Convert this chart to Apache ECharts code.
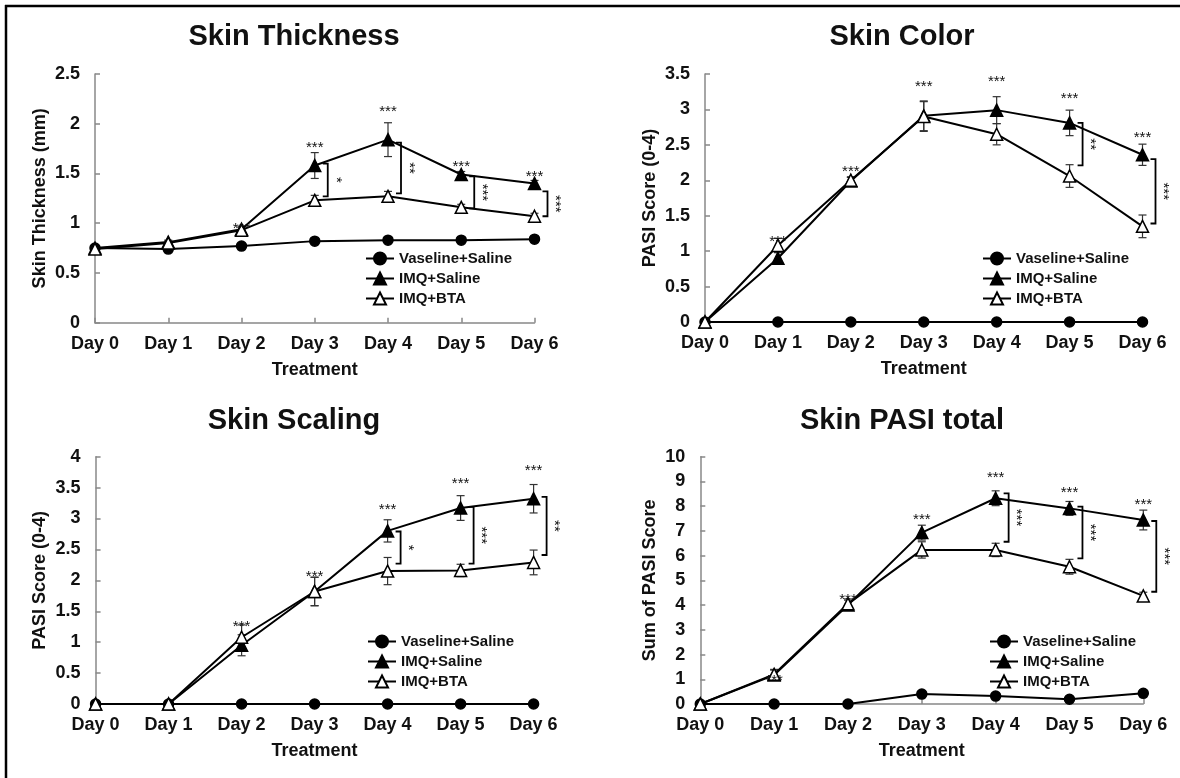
<!DOCTYPE html>
<html>
<head>
<meta charset="utf-8">
<title>Skin scores</title>
<script src="https://cdn.jsdelivr.net/npm/echarts@6/dist/echarts.min.js"></script>
<style>
  html, body { margin: 0; padding: 0; background: #fff; overflow: hidden; }
  #main { width: 1180px; height: 778px; }
</style>
</head>
<body>
<div id="main"></div>
<script>
const days = ['Day 0', 'Day 1', 'Day 2', 'Day 3', 'Day 4', 'Day 5', 'Day 6']
const groups = ['Vaseline+Saline', 'IMQ+Saline', 'IMQ+BTA']

// Skin Thickness (mm)
const thickVas = [0.75, 0.74, 0.77, 0.82, 0.83, 0.83, 0.84]
const thickImq = [0.75, 0.81, 0.94, 1.58, 1.84, 1.49, 1.40]
const thickBta = [0.74, 0.80, 0.93, 1.23, 1.27, 1.16, 1.07]
const thickImqErr = [0, 0.02, 0.03, 0.13, 0.17, 0.03, 0.03]
const thickBtaErr = [0, 0.02, 0.03, 0.05, 0.05, 0.03, 0.03]
const thickStars = [[2, 0.98, '***'], [3, 1.80, '***'], [4, 2.16, '***'], [5, 1.61, '***'], [6, 1.51, '***']]
const thickBrackets = [[3, 1.60, 1.27, '*'], [4, 1.81, 1.30, '**'], [5, 1.47, 1.15, '***'], [6, 1.32, 1.07, '***']]

// Skin Color
const colorVas = [0, 0, 0, 0, 0, 0, 0]
const colorImq = [0, 0.90, 1.99, 2.91, 2.99, 2.81, 2.36]
const colorBta = [0, 1.08, 2.00, 2.90, 2.65, 2.06, 1.35]
const colorImqErr = [0, 0.08, 0.05, 0.21, 0.19, 0.18, 0.15]
const colorBtaErr = [0, 0.10, 0.05, 0.21, 0.15, 0.16, 0.16]
const colorStars = [[1, 1.19, '***'], [2, 2.17, '***'], [3, 3.37, '***'], [4, 3.44, '***'], [5, 3.20, '***'], [6, 2.65, '***']]
const colorBrackets = [[5, 2.81, 2.21, '**'], [6, 2.30, 1.39, '***']]

// Skin Scaling
const scaleVas = [0, 0, 0, 0, 0, 0, 0]
const scaleImq = [0, 0, 0.95, 1.82, 2.80, 3.17, 3.32]
const scaleBta = [0, 0, 1.08, 1.82, 2.15, 2.16, 2.29]
const scaleImqErr = [0, 0, 0.17, 0.23, 0.18, 0.20, 0.23]
const scaleBtaErr = [0, 0, 0.20, 0.23, 0.22, 0.10, 0.20]
const scaleStars = [[2, 1.31, '***'], [3, 2.12, '***'], [4, 3.20, '***'], [5, 3.62, '***'], [6, 3.83, '***']]
const scaleBrackets = [[4, 2.79, 2.27, '*'], [5, 3.19, 2.27, '***'], [6, 3.35, 2.41, '**']]

// Skin PASI total
const totalVas = [0, 0, 0, 0.40, 0.32, 0.19, 0.43]
const totalImq = [0, 1.17, 4.00, 6.93, 8.32, 7.91, 7.44]
const totalBta = [0, 1.20, 4.05, 6.23, 6.23, 5.55, 4.37]
const totalImqErr = [0, 0.20, 0.20, 0.30, 0.30, 0.28, 0.40]
const totalBtaErr = [0, 0.20, 0.20, 0.33, 0.27, 0.30, 0.15]
const totalStars = [[1, 1.08, '***'], [2, 4.37, '***'], [3, 7.60, '***'], [4, 9.30, '***'], [5, 8.68, '***'], [6, 8.22, '***']]
const totalBrackets = [[4, 8.52, 6.56, '***'], [5, 7.98, 5.89, '***'], [6, 7.40, 4.54, '***']]

const font = '"Liberation Sans", Arial, sans-serif'
const ink = '#111'

const panels = [
  { title: 'Skin Thickness', yName: 'Skin Thickness (mm)', max: 2.5, interval: 0.5,
    vas: thickVas, imq: thickImq, bta: thickBta, imqErr: thickImqErr, btaErr: thickBtaErr,
    stars: thickStars, brackets: thickBrackets,
    grid: { left: 95, top: 74, width: 439.5, height: 248.7 }, titleX: 294, titleY: 22, nameGap: 46, legend: [365, 251] },
  { title: 'Skin Color', yName: 'PASI Score (0-4)', max: 3.5, interval: 0.5,
    vas: colorVas, imq: colorImq, bta: colorBta, imqErr: colorImqErr, btaErr: colorBtaErr,
    stars: colorStars, brackets: colorBrackets,
    grid: { left: 705, top: 74, width: 437.5, height: 248 }, titleX: 902, titleY: 22, nameGap: 46, legend: [982, 251] },
  { title: 'Skin Scaling', yName: 'PASI Score (0-4)', max: 4, interval: 0.5,
    vas: scaleVas, imq: scaleImq, bta: scaleBta, imqErr: scaleImqErr, btaErr: scaleBtaErr,
    stars: scaleStars, brackets: scaleBrackets,
    grid: { left: 95.6, top: 456.7, width: 438, height: 247.3 }, titleX: 294, titleY: 406, nameGap: 47, legend: [367, 634] },
  { title: 'Skin PASI total', yName: 'Sum of PASI Score', max: 10, interval: 1,
    vas: totalVas, imq: totalImq, bta: totalBta, imqErr: totalImqErr, btaErr: totalBtaErr,
    stars: totalStars, brackets: totalBrackets,
    grid: { left: 700.3, top: 456.7, width: 443, height: 247.3 }, titleX: 902, titleY: 406, nameGap: 41, legend: [989, 634] }
]

const renderErr = (params, api) => {
  const e = api.value(2)
  if (!e) return
  const top = api.coord([api.value(0), api.value(1) + e])
  const bot = api.coord([api.value(0), api.value(1) - e])
  const st = { stroke: '#333', lineWidth: 1.2 }
  return {
    type: 'group',
    children: [
      { type: 'line', shape: { x1: top[0], y1: top[1], x2: bot[0], y2: bot[1] }, style: st },
      { type: 'line', shape: { x1: top[0] - 4, y1: top[1], x2: top[0] + 4, y2: top[1] }, style: st },
      { type: 'line', shape: { x1: bot[0] - 4, y1: bot[1], x2: bot[0] + 4, y2: bot[1] }, style: st }
    ]
  }
}

const lineSeries = (i, name, data, symbol, fill) => ({
  name: name,
  type: 'line',
  xAxisIndex: i,
  yAxisIndex: i,
  data: data,
  symbol: symbol,
  symbolSize: symbol === 'circle' ? 10 : 12,
  lineStyle: { color: '#000', width: 2 },
  itemStyle: { color: fill, borderColor: '#000', borderWidth: 1.5 },
  z: 3
})

const option = {
  animation: false,
  backgroundColor: '#fff',
  title: [],
  grid: [],
  xAxis: [],
  yAxis: [],
  legend: [],
  series: [],
  graphic: [
    { type: 'line', shape: { x1: 5, y1: 6, x2: 1180, y2: 6 }, style: { stroke: '#000', lineWidth: 2.5 } },
    { type: 'line', shape: { x1: 6, y1: 5, x2: 6, y2: 778 }, style: { stroke: '#000', lineWidth: 2.5 } }
  ]
}

panels.forEach((p, i) => {
  option.title.push({
    text: p.title, left: p.titleX, top: p.titleY, textAlign: 'center', padding: 0,
    textStyle: { fontSize: 29, fontWeight: 'bold', color: ink, fontFamily: font }
  })
  option.grid.push(p.grid)
  option.xAxis.push({
    type: 'category', gridIndex: i, data: days, boundaryGap: false,
    axisLine: { lineStyle: { color: '#888', width: 1.5 } },
    axisTick: { inside: true, length: 5, lineStyle: { color: '#888', width: 1.5 } },
    axisLabel: { interval: 0, margin: 12, fontSize: 18, fontWeight: 'bold', color: ink, fontFamily: font },
    name: 'Treatment', nameLocation: 'middle', nameGap: 38,
    nameTextStyle: { fontSize: 18, fontWeight: 'bold', color: ink, fontFamily: font }
  })
  option.yAxis.push({
    type: 'value', gridIndex: i, min: 0, max: p.max, interval: p.interval,
    axisLine: { show: true, lineStyle: { color: '#888', width: 1.5 } },
    axisTick: { show: true, inside: true, length: 5, lineStyle: { color: '#888', width: 1.5 } },
    splitLine: { show: false },
    axisLabel: { margin: 15, fontSize: 18, fontWeight: 'bold', color: ink, fontFamily: font },
    name: p.yName, nameLocation: 'middle', nameGap: p.nameGap,
    nameTextStyle: { fontSize: 18, fontWeight: 'bold', color: ink, fontFamily: font }
  })
  option.legend.push({
    data: groups, orient: 'vertical', left: p.legend[0], top: p.legend[1],
    itemWidth: 28, itemHeight: 15, itemGap: 5, padding: 0, selectedMode: false,
    textStyle: { fontSize: 15, fontWeight: 'bold', color: ink, fontFamily: font, lineHeight: 15 }
  })

  // error bars
  option.series.push({
    type: 'custom', xAxisIndex: i, yAxisIndex: i, silent: true, z: 2,
    data: p.imq.map((v, k) => [k, v, p.imqErr[k]]), renderItem: renderErr
  })
  option.series.push({
    type: 'custom', xAxisIndex: i, yAxisIndex: i, silent: true, z: 2,
    data: p.bta.map((v, k) => [k, v, p.btaErr[k]]), renderItem: renderErr
  })

  option.series.push(lineSeries(i, groups[0], p.vas, 'circle', '#000'))
  option.series.push(lineSeries(i, groups[1], p.imq, 'triangle', '#000'))
  option.series.push(lineSeries(i, groups[2], p.bta, 'triangle', '#fff'))

  // stars over the IMQ+Saline points
  option.series.push({
    type: 'custom', xAxisIndex: i, yAxisIndex: i, silent: true, z: 4,
    data: p.stars.map(s => [s[0], s[1]]),
    renderItem: (params, api) => {
      const pt = api.coord([api.value(0), api.value(1)])
      return {
        type: 'text', x: pt[0], y: pt[1] + 4,
        style: { text: p.stars[params.dataIndex][2], fontSize: 15, fontFamily: font, fill: ink, align: 'center', verticalAlign: 'middle' }
      }
    }
  })

  // brackets between IMQ+Saline and IMQ+BTA
  option.series.push({
    type: 'custom', xAxisIndex: i, yAxisIndex: i, silent: true, z: 4,
    data: p.brackets.map(b => [b[0], b[1], b[2]]),
    renderItem: (params, api) => {
      const hi = api.coord([api.value(0), api.value(1)])
      const lo = api.coord([api.value(0), api.value(2)])
      const x = hi[0] + 13
      return {
        type: 'group',
        children: [
          { type: 'polyline', shape: { points: [[x - 5, hi[1]], [x, hi[1]], [x, lo[1]], [x - 5, lo[1]]] },
            style: { stroke: '#000', lineWidth: 1.8, fill: null } },
          { type: 'text', x: x + 8, y: (hi[1] + lo[1]) / 2, rotation: -Math.PI / 2,
            style: { text: p.brackets[params.dataIndex][3], fontSize: 15, fontFamily: font, fill: ink, align: 'center', verticalAlign: 'middle' } }
        ]
      }
    }
  })
})

const myChart = echarts.init(document.getElementById('main'))
myChart.setOption(option)
</script>
</body>
</html>
